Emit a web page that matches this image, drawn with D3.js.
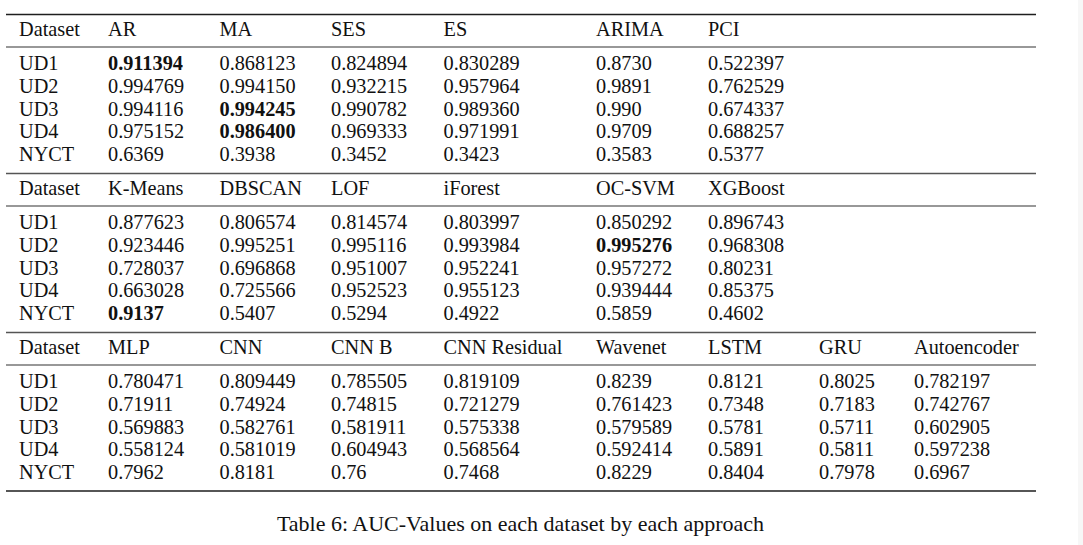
<!DOCTYPE html>
<html>
<head>
<meta charset="utf-8">
<script src="https://cdn.jsdelivr.net/npm/d3@7"></script>
<style>
  html, body { margin: 0; padding: 0; background: #fff; }
  svg { display: block; }
  text { font-family: "Liberation Serif", "Times New Roman", serif; fill: #111; }
</style>
</head>
<body>
<svg id="chart" width="1083" height="545"></svg>
<script>
// ---------------- DATA ----------------
const datasets = ["UD1", "UD2", "UD3", "UD4", "NYCT"];

const statMethods = ["AR", "MA", "SES", "ES", "ARIMA", "PCI"];
const statValues = [
  ["0.911394", "0.868123", "0.824894", "0.830289", "0.8730", "0.522397"],
  ["0.994769", "0.994150", "0.932215", "0.957964", "0.9891", "0.762529"],
  ["0.994116", "0.994245", "0.990782", "0.989360", "0.990", "0.674337"],
  ["0.975152", "0.986400", "0.969333", "0.971991", "0.9709", "0.688257"],
  ["0.6369", "0.3938", "0.3452", "0.3423", "0.3583", "0.5377"]
];
const statBold = [[0, 0], [2, 1], [3, 1]]; // [row, method]

const mlMethods = ["K-Means", "DBSCAN", "LOF", "iForest", "OC-SVM", "XGBoost"];
const mlValues = [
  ["0.877623", "0.806574", "0.814574", "0.803997", "0.850292", "0.896743"],
  ["0.923446", "0.995251", "0.995116", "0.993984", "0.995276", "0.968308"],
  ["0.728037", "0.696868", "0.951007", "0.952241", "0.957272", "0.80231"],
  ["0.663028", "0.725566", "0.952523", "0.955123", "0.939444", "0.85375"],
  ["0.9137", "0.5407", "0.5294", "0.4922", "0.5859", "0.4602"]
];
const mlBold = [[1, 4], [4, 0]];

const dlMethods = ["MLP", "CNN", "CNN B", "CNN Residual", "Wavenet", "LSTM", "GRU", "Autoencoder"];
const dlValues = [
  ["0.780471", "0.809449", "0.785505", "0.819109", "0.8239", "0.8121", "0.8025", "0.782197"],
  ["0.71911", "0.74924", "0.74815", "0.721279", "0.761423", "0.7348", "0.7183", "0.742767"],
  ["0.569883", "0.582761", "0.581911", "0.575338", "0.579589", "0.5781", "0.5711", "0.602905"],
  ["0.558124", "0.581019", "0.604943", "0.568564", "0.592414", "0.5891", "0.5811", "0.597238"],
  ["0.7962", "0.8181", "0.76", "0.7468", "0.8229", "0.8404", "0.7978", "0.6967"]
];
const dlBold = [];

const headerFirst = "Dataset";
const caption = "Table 6: AUC-Values on each dataset by each approach";

// ---------------- LAYOUT ----------------
const svg = d3.select("#chart");
const W = 1083, H = 545;
const fontSize = 20.3;
const captionSize = 22;

// faint right-edge strip seen in reference
svg.append("rect").attr("x", 1078).attr("y", 0).attr("width", 5).attr("height", H).attr("fill", "#f7f7f7");

const tableLeft = 6, tableRight = 1036;
const colIdx = d3.range(9);
const x = d3.scaleOrdinal().domain(colIdx).range([19, 108, 219.5, 331, 443.5, 596, 708, 819, 914]);

const sections = [
  { methods: statMethods, values: statValues, bold: statBold },
  { methods: mlMethods, values: mlValues, bold: mlBold },
  { methods: dlMethods, values: dlValues, bold: dlBold }
];

const sectionTop = d3.scaleLinear().domain([0, 1]).range([14.5, 173.5]);
const rowY = d3.scaleLinear().domain([0, 1]).range([55.5, 78.25]);

function hRule(y, color, w) {
  svg.append("line")
    .attr("x1", tableLeft).attr("x2", tableRight)
    .attr("y1", y).attr("y2", y)
    .attr("stroke", color).attr("stroke-width", w);
}

sections.forEach((sec, si) => {
  const top = sectionTop(si);
  if (si === 0) hRule(top, "#1e1e1e", 1.7);
  else hRule(top, "#555", 1.3);
  const g = svg.append("g").attr("transform", `translate(0,${top})`);
  const headers = [headerFirst].concat(sec.methods);
  g.selectAll("text.h").data(headers).enter().append("text")
    .attr("class", "h")
    .attr("x", (d, i) => x(i))
    .attr("y", 21.5)
    .attr("font-size", fontSize)
    .text(d => d);
  hRule(top + 32.5, "#333", 1.1);
  const rows = g.selectAll("g.row").data(sec.values).enter().append("g")
    .attr("class", "row")
    .attr("transform", (d, i) => `translate(0,${rowY(i)})`);
  rows.append("text")
    .attr("x", x(0)).attr("y", 0)
    .attr("font-size", fontSize)
    .text((d, i) => datasets[i]);
  rows.each(function (rowVals, ri) {
    d3.select(this).selectAll("text.v").data(rowVals).enter().append("text")
      .attr("class", "v")
      .attr("x", (d, ci) => x(ci + 1))
      .attr("y", 0)
      .attr("font-size", fontSize)
      .attr("font-weight", (d, ci) => sec.bold.some(b => b[0] === ri && b[1] === ci) ? "bold" : "normal")
      .text(d => d);
  });
  if (si === sections.length - 1) {
    hRule(top + rowY(datasets.length - 1) + 12, "#1e1e1e", 1.7);
  }
});

svg.append("text")
  .attr("x", 520.5)
  .attr("y", 531)
  .attr("text-anchor", "middle")
  .attr("font-size", captionSize)
  .text(caption);
</script>
</body>
</html>
